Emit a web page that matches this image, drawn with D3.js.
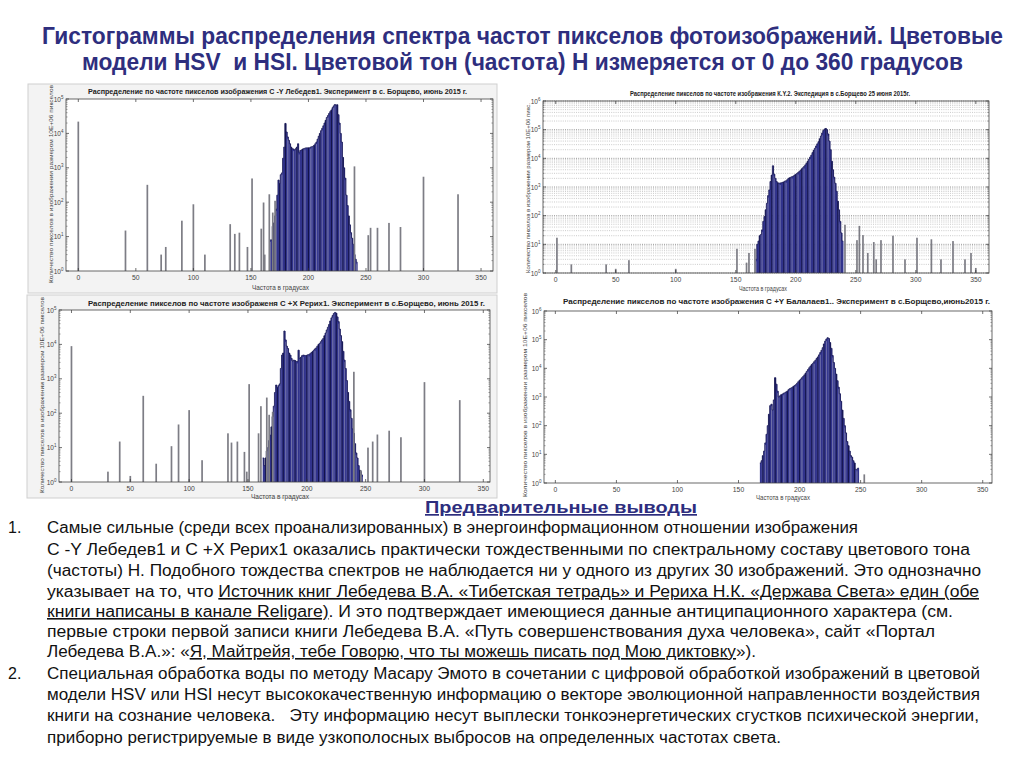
<!DOCTYPE html>
<html><head><meta charset="utf-8">
<script src="https://cdn.jsdelivr.net/npm/d3@7"></script>
<style>
html,body{margin:0;padding:0;background:#fff;}
svg{display:block;}
</style></head>
<body>
<svg id="s" width="1024" height="767"></svg>
<script>
// ---------------- DATA ----------------
const slideTitle = [
  "Гистограммы распределения спектра частот пикселов фотоизображений. Цветовые",
  "модели HSV  и HSI. Цветовой тон (частота) Н измеряется от 0 до 360 градусов"
];
const xTickValues = [0, 50, 100, 150, 200, 250, 300, 350];
const xAxisLabel = "Частота в градусах";
const yAxisLabelLong = "Количество пикселов в изображении размером 10Е+06 пикселов";
const yAxisLabelShort = "Количество пикселов в изображении размером 10Е+06 пикс.";

// Chart 1: С -Y Лебедев1
const lebedevTitle = "Распределение по частоте пикселов изображения С -Y Лебедев1. Эксперимент в с. Борщево, июнь 2015 г.";
const lebedevSpikeDeg   = [0, 41, 60, 72, 76, 90, 100, 110, 132, 136, 140, 147, 151, 159, 161, 162, 166, 169, 171, 240, 252, 254, 260, 270, 280, 300, 330];
const lebedevSpikeCount = [22000, 15, 320, 3, 5, 29, 87, 3, 23, 12, 13, 5, 490, 17, 98, 3, 170, 50, 110, 1100, 11, 18, 18, 25, 19, 550, 170];
const lebedevCoreStart = 167;
const lebedevCoreCount = [8,8,20,25,40,63,160,440,350,630,
  710,1900,4000,19500,11000,7900,6300,5000,4000,3600,
  3500,3300,3600,4000,5000,2800,3200,3300,3500,3600,
  3700,3800,3800,3800,3800,4000,4100,4200,4500,5000,
  5600,6800,8300,10000,12000,14000,16600,20000,24000,29000,
  33000,38000,43000,48000,56000,63000,69000,66000,68000,35000,
  20000,10000,5600,2000,1000,500,160,80,40,22,
  13,9,6,3,2.2,1.8];

// Chart 2: К.Y.2
const ky2Title = "Распределение пикселов по частоте изображения К.Y.2. Экспедиция в с.Борщево 25 июня 2015г.";
const ky2SpikeDeg   = [1, 13, 42, 50, 61, 100, 151, 159, 161, 166, 241, 251, 253, 256, 260, 265, 267, 271, 281, 291, 301, 313, 321, 331, 341, 346, 350];
const ky2SpikeCount = [17, 2, 2, 1.4, 2.8, 1.4, 7, 2.3, 5, 7, 48, 14, 44, 21, 5, 12, 3, 14, 20, 3, 17, 15, 3, 13, 3, 5, 1.5];
const ky2CoreStart = 167;
const ky2CoreCount = [3,10,13,20,22,32,63,93,160,270,
  500,790,1550,2600,5500,2800,2000,1550,1400,1350,
  1380,1400,1450,1500,1600,1650,1800,2000,2100,2200,
  2300,2400,2600,2750,2950,3200,3500,3800,4300,4700,
  5200,5900,6800,7900,9300,11000,12900,15800,19000,22400,
  27000,32000,38000,48000,60000,76000,93000,105000,110000,100000,
  71000,40000,20000,7900,4000,2200,1350,710,320,160,
  63,25,13];

// Chart 3: С +Х Рерих1
const rerikhTitle = "Распределение пикселов по частоте изображеня С +Х Рерих1. Эксперимент в с.Борщево, июнь 2015 г.";
const rerikhSpikeDeg   = [0, 31, 41, 50, 61, 72, 85, 91, 100, 111, 133, 136, 141, 147, 149, 151, 159, 161, 166, 168, 171, 240, 246, 252, 256, 260, 270, 280, 300, 330];
const rerikhSpikeCount = [8900, 2, 15, 1.5, 320, 3.4, 11, 47, 123, 4.3, 26, 14, 15, 7.5, 2, 700, 26, 160, 285, 90, 110, 1600, 2.2, 10, 15, 24, 31, 20, 800, 240];
const rerikhCoreStart = 163;
const rerikhCoreCount = [5,3,5,8,10,16,23,40,80,160,
  400,660,560,630,710,2000,4900,5600,24500,13500,
  8900,7600,5600,4900,3900,3300,3500,3400,3200,3200,
  6800,3900,4200,4700,4900,4800,4700,4800,5000,5100,
  5400,5800,6200,6800,7400,7900,8900,10000,10700,12000,
  13500,14800,17800,21400,26300,31600,38000,48000,59000,69000,
  79000,85000,81000,63000,46000,28000,18000,12000,6300,3500,
  2000,890,400,220,126,71,35,26,13,7,
  5,3,2.2,2,1.6];

// Chart 4: С +Y Балалаев1
const balalaevTitle = "Распределение пикселов по частоте изображения С +Y Балалаев1.. Эксперимент в с.Борщево,июнь2015 г.";
const balalaevSpikeDeg   = [253];
const balalaevSpikeCount = [2];
const balalaevCoreStart = 168;
const balalaevCoreCount = [5,6,9,13,25,50,100,250,500,560,
  350,790,4700,2800,1600,1000,1100,1200,1260,1350,
  1400,1500,1600,1800,1950,2050,2150,2350,2500,2700,
  3000,3400,3800,4200,4700,5200,5900,6800,7900,9100,
  10500,12000,13500,15000,17000,19000,22000,25000,29500,35500,
  42500,52500,71000,89000,105000,117000,110000,79000,50000,28000,
  16000,10000,6300,3700,2200,1300,710,350,180,100,
  56,28,20,13,9,8,6,5,3,3,3.3];

// Conclusions text
const conclusionsHeading = "Предварительные выводы";
const bodyLines = [
  {num: "1.", segs: [["Самые сильные (среди всех проанализированных) в энергоинформационном отношении изображения", false]]},
  {segs: [["С -Y Лебедев1 и С +Х Рерих1 оказались практически тождественными по спектральному составу цветового тона", false]]},
  {segs: [["(частоты) Н. Подобного тождества спектров не наблюдается ни у одного из других 30 изображений. Это однозначно", false]]},
  {segs: [["указывает на то, что ", false], ["Источник книг Лебедева В.А. «Тибетская тетрадь» и Рериха Н.К. «Держава Света» един (обе", true]]},
  {segs: [["книги написаны в канале Religare)", true], [". И это подтверждает имеющиеся данные антиципационного характера (см.", false]]},
  {segs: [["первые строки первой записи книги Лебедева В.А. «Путь совершенствования духа человека», сайт «Портал", false]]},
  {segs: [["Лебедева В.А.»: «", false], ["Я, Майтрейя, тебе Говорю, что ты можешь писать под Мою диктовку", true], ["»).", false]]},
  {num: "2.", segs: [["Специальная обработка воды по методу Масару Эмото в сочетании с цифровой обработкой изображений в цветовой", false]]},
  {segs: [["модели HSV или HSI несут высококачественную информацию о векторе эволюционной направленности воздействия", false]]},
  {segs: [["книги на сознание человека.   Эту информацию несут выплески тонкоэнергетических сгустков психической энергии,", false]]},
  {segs: [["приборно регистрируемые в виде узкополосных выбросов на определенных частотах света.", false]]}
];

// ---------------- DRAWING ----------------
const svg = d3.select("#s");
const NAVY = "#2e2e7e";
const NARROW = "'Liberation Sans Narrow','Liberation Sans',Arial,sans-serif";
const SANS = "'Liberation Sans',Arial,sans-serif";

function fitText(parent, x, y, str, len, size, opts = {}) {
  const t = parent.append("text")
    .attr("x", x).attr("y", y)
    .attr("font-family", opts.family || SANS)
    .attr("font-size", size)
    .attr("font-weight", opts.weight || "normal")
    .attr("fill", opts.fill || "#222")
    .attr("text-anchor", opts.anchor || "start")
    .attr("textLength", len)
    .attr("lengthAdjust", "spacingAndGlyphs")
    .style("white-space", "pre")
    .text(str);
  if (opts.transform) t.attr("transform", opts.transform);
  if (opts.underline) t.attr("text-decoration", "underline");
  return t;
}

function drawHist(cfg) {
  const g = svg.append("g");
  g.append("rect").attr("x", cfg.frame[0]).attr("y", cfg.frame[1])
    .attr("width", cfg.frame[2]).attr("height", cfg.frame[3])
    .attr("fill", cfg.bg).attr("stroke", cfg.bgStroke).attr("stroke-width", 1);
  const P = cfg.plot;
  const x = d3.scaleLinear().domain(cfg.xDomain).range([P.l, P.r]);
  const y = d3.scaleLog().domain([1, cfg.yMax]).range([P.b, P.t]);
  g.append("rect").attr("x", P.l).attr("y", P.t).attr("width", P.r - P.l).attr("height", P.b - P.t).attr("fill", "#fff");

  const nDec = Math.round(Math.log10(cfg.yMax));
  const majors = d3.range(0, nDec + 1).map(k => Math.pow(10, k));
  const minors = [];
  d3.range(0, nDec).forEach(k => d3.range(2, 10).forEach(m => minors.push(m * Math.pow(10, k))));

  if (cfg.grid) {
    g.selectAll(null).data(minors).join("line")
      .attr("x1", P.l).attr("x2", P.r).attr("y1", d => y(d)).attr("y2", d => y(d))
      .attr("stroke", "#a8a8a8").attr("stroke-width", 0.6).attr("stroke-dasharray", "1,1.2");
    g.selectAll(null).data(majors).join("line")
      .attr("x1", P.l).attr("x2", P.r).attr("y1", d => y(d)).attr("y2", d => y(d))
      .attr("stroke", "#707070").attr("stroke-width", 0.7).attr("stroke-dasharray", "1,1.2");
  }

  const bw = x(1) - x(0);
  const core = cfg.core.map((c, i) => ({deg: cfg.coreStart + i, count: c}));
  g.selectAll(null).data(core).join("rect")
    .attr("x", d => x(d.deg - 0.5)).attr("width", bw + 0.3)
    .attr("y", d => y(d.count)).attr("height", d => y(1) - y(d.count))
    .attr("fill", "#31338c");
  g.selectAll(null).data(core.filter(d => d.deg % 5 === 0)).join("line")
    .attr("x1", d => x(d.deg)).attr("x2", d => x(d.deg))
    .attr("y1", d => y(d.count)).attr("y2", y(1))
    .attr("stroke", "#14144a").attr("stroke-width", 1.1);
  g.selectAll(null).data(core.filter(d => d.deg % 5 === 2)).join("line")
    .attr("x1", d => x(d.deg)).attr("x2", d => x(d.deg))
    .attr("y1", d => y(d.count) + 2).attr("y2", y(1))
    .attr("stroke", "#7777aa").attr("stroke-width", 0.9);
  const pts = [];
  core.forEach(d => { pts.push([x(d.deg - 0.5), y(d.count)]); pts.push([x(d.deg + 0.5), y(d.count)]); });
  g.append("path").attr("d", d3.line()(pts)).attr("fill", "none")
    .attr("stroke", "#1a1a55").attr("stroke-width", 0.8);

  const spikes = cfg.spikeDeg.map((d, i) => ({deg: d, count: cfg.spikeCount[i]}));
  const sw = Math.max(1.7, bw * 0.9);
  g.selectAll(null).data(spikes).join("rect")
    .attr("x", d => x(d.deg) - sw / 2).attr("width", sw)
    .attr("y", d => y(d.count)).attr("height", d => y(1) - y(d.count))
    .attr("fill", "#7d7d85");

  const tk = 3;
  const xt = xTickValues.filter(v => v >= cfg.xDomain[0] && v <= cfg.xDomain[1]);
  g.selectAll(null).data(xt).join("line")
    .attr("x1", d => x(d)).attr("x2", d => x(d)).attr("y1", P.b).attr("y2", P.b - tk)
    .attr("stroke", "#333").attr("stroke-width", 0.7);
  g.selectAll(null).data(xt).join("line")
    .attr("x1", d => x(d)).attr("x2", d => x(d)).attr("y1", P.t).attr("y2", P.t + tk)
    .attr("stroke", "#333").attr("stroke-width", 0.7);
  [P.l, P.r].forEach((ex, side) => {
    const dir = side === 0 ? 1 : -1;
    g.selectAll(null).data(majors).join("line")
      .attr("x1", ex).attr("x2", ex + dir * tk).attr("y1", d => y(d)).attr("y2", d => y(d))
      .attr("stroke", "#333").attr("stroke-width", 0.7);
    g.selectAll(null).data(minors).join("line")
      .attr("x1", ex).attr("x2", ex + dir * 1.6).attr("y1", d => y(d)).attr("y2", d => y(d))
      .attr("stroke", "#555").attr("stroke-width", 0.5);
  });
  g.append("rect").attr("x", P.l).attr("y", P.t).attr("width", P.r - P.l).attr("height", P.b - P.t)
    .attr("fill", "none").attr("stroke", "#444").attr("stroke-width", 0.8);

  g.selectAll(null).data(xt).join("text")
    .attr("x", d => x(d)).attr("y", P.b + 8.5)
    .attr("text-anchor", "middle").attr("font-family", SANS).attr("font-size", 6.8).attr("fill", "#444")
    .text(d => d);
  const yl = g.selectAll(null).data(majors).join("text")
    .attr("x", P.l - 2.5).attr("y", d => y(d) + 2.5)
    .attr("text-anchor", "end").attr("font-family", SANS).attr("font-size", 6.5).attr("fill", "#444");
  yl.append("tspan").text("10");
  yl.append("tspan").attr("dy", -3).attr("font-size", 4.5).text(d => Math.round(Math.log10(d)));

  fitText(g, cfg.titlePos[0], cfg.titlePos[1], cfg.title, cfg.titlePos[2], 7.4, {anchor: "start", weight: "bold", fill: "#222"});
  fitText(g, cfg.xLabelPos[0], cfg.xLabelPos[1], xAxisLabel, cfg.xLabelPos[2], 6.5, {anchor: "start", fill: "#444"});
  const yx = cfg.yLabelPos[0], yy = cfg.yLabelPos[1];
  fitText(g, yx, yy, cfg.yLabel, cfg.yLabelPos[2], 6.2,
    {anchor: "start", fill: "#444", transform: `rotate(-90 ${yx} ${yy})`});
}

drawHist({
  frame: [28, 84, 469, 209], bg: "#f3f3f3", bgStroke: "#cfcfcf",
  plot: {l: 66, t: 99, r: 493, b: 271}, xDomain: [-10.7, 360.4], yMax: 1e5, grid: false,
  core: lebedevCoreCount, coreStart: lebedevCoreStart, spikeDeg: lebedevSpikeDeg, spikeCount: lebedevSpikeCount,
  title: lebedevTitle, titlePos: [88, 94, 379],
  xLabelPos: [252, 290, 57], yLabel: yAxisLabelLong, yLabelPos: [53, 283, 198]
});
drawHist({
  frame: [515, 85, 485, 208], bg: "#ffffff", bgStroke: "#ffffff",
  plot: {l: 543, t: 101, r: 989, b: 273}, xDomain: [-10.6, 361], yMax: 1e6, grid: true,
  core: ky2CoreCount, coreStart: ky2CoreStart, spikeDeg: ky2SpikeDeg, spikeCount: ky2SpikeCount,
  title: ky2Title, titlePos: [630, 96, 280],
  xLabelPos: [739, 291, 48], yLabel: yAxisLabelShort, yLabelPos: [530, 273, 170]
});
drawHist({
  frame: [27, 295, 470, 203], bg: "#f3f3f3", bgStroke: "#cfcfcf",
  plot: {l: 59, t: 310, r: 490, b: 482}, xDomain: [-10.6, 355.7], yMax: 1e5, grid: false,
  core: rerikhCoreCount, coreStart: rerikhCoreStart, spikeDeg: rerikhSpikeDeg, spikeCount: rerikhSpikeCount,
  title: rerikhTitle, titlePos: [88, 306, 397],
  xLabelPos: [251, 499, 58], yLabel: yAxisLabelLong, yLabelPos: [44, 493, 196]
});
drawHist({
  frame: [515, 293, 485, 205], bg: "#ffffff", bgStroke: "#ffffff",
  plot: {l: 544, t: 311, r: 992, b: 483}, xDomain: [-9.3, 357.6], yMax: 1e6, grid: false,
  core: balalaevCoreCount, coreStart: balalaevCoreStart, spikeDeg: balalaevSpikeDeg, spikeCount: balalaevSpikeCount,
  title: balalaevTitle, titlePos: [563, 304, 427],
  xLabelPos: [756, 500, 54], yLabel: yAxisLabelLong, yLabelPos: [527, 497, 204]
});

// Slide title
const titleLayout = [[42, 44, 961], [82, 70, 881]];
slideTitle.forEach((s, i) => fitText(svg, titleLayout[i][0], titleLayout[i][1], s, titleLayout[i][2], 23,
  {family: NARROW, weight: "bold", fill: NAVY}));

// Heading
fitText(svg, 425, 513, conclusionsHeading, 272, 17, {family: NARROW, weight: "bold", fill: NAVY, underline: true});

// Body
const baselines = [533, 555, 576, 597, 617, 637, 657, 679, 700, 721, 743];
const lineEnds = [858, 970, 981, 979, 953, 935, 756, 980, 980, 979, 781];
bodyLines.forEach((ln, i) => {
  if (ln.num) svg.append("text").attr("x", 8).attr("y", baselines[i]).attr("font-family", NARROW)
    .attr("font-size", 16).attr("fill", "#111").text(ln.num);
  const t = svg.append("text").attr("x", 47).attr("y", baselines[i])
    .attr("font-family", NARROW).attr("font-size", 16).attr("fill", "#111")
    .attr("textLength", lineEnds[i] - 47).attr("lengthAdjust", "spacingAndGlyphs")
    .style("white-space", "pre");
  ln.segs.forEach(s => {
    const ts = t.append("tspan").text(s[0]);
    if (s[1]) ts.attr("text-decoration", "underline");
  });
});
</script>
</body></html>
